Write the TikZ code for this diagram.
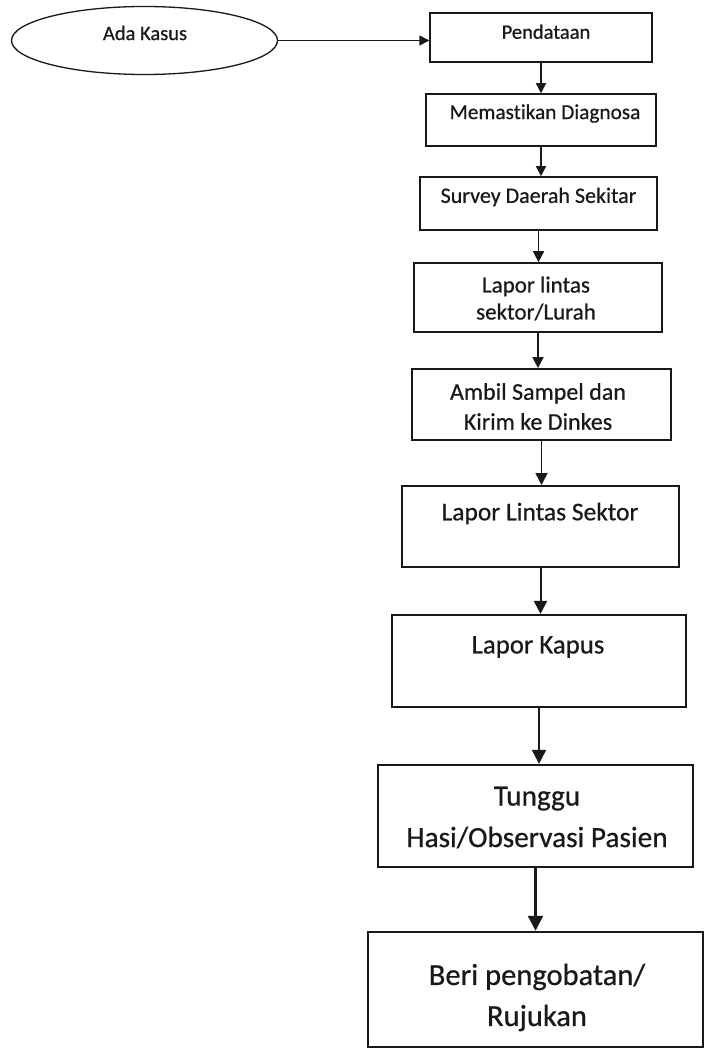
\documentclass[tikz,border=0pt]{standalone}
\usepackage{fontspec}
\setmainfont{Carlito}[Ligatures=NoCommon, FakeBold=0.6]
\usetikzlibrary{arrows.meta,shapes.geometric}
\begin{document}
\begin{tikzpicture}[x=1pt,y=-1pt,
  ink/.style={draw=black!90},
  box/.style={ink, fill=white, inner sep=0pt},
  lbl/.style={inner sep=0pt, text=black!90, align=center},
  flow/.style={ink, -{Triangle[length=#1pt,width=#1pt]}},
  flow/.default=10]
\useasboundingbox (0,0) rectangle (704,1051);
\fill[white] (0,0) rectangle (704,1051);

% start ellipse
\node[ellipse, ink, line width=1.3pt, minimum width=266pt, minimum height=68pt, inner sep=0pt] (e) at (144.5,40.5) {};
\node[lbl, font=\fontsize{20.5}{24}\selectfont] (te) at (145,33) {Ada Kasus};

% boxes
\node[box, line width=1.4pt, minimum width=222pt, minimum height=49pt] (b1) at (541,37.5) {};
\node[lbl, font=\fontsize{20.5}{24}\selectfont] (t1) at (546,31.7) {Pendataan};

\node[box, line width=1.5pt, minimum width=230pt, minimum height=52pt] (b2) at (541,120) {};
\node[lbl, font=\fontsize{21.3}{25}\selectfont] (t2) at (545,113.5) {Memastikan Diagnosa};

\node[box, line width=1.6pt, minimum width=237pt, minimum height=53pt] (b3) at (538.5,203.5) {};
\node[lbl, font=\fontsize{22}{26}\selectfont] (t3) at (538.5,197) {Survey Daerah Sekitar};

\node[box, line width=1.7pt, minimum width=248pt, minimum height=69pt] (b4) at (538,297.5) {};
\node[lbl, font=\fontsize{23}{27}\selectfont] (t4) at (536,298.5) {Lapor lintas\\sektor/Lurah};

\node[box, line width=1.8pt, minimum width=259pt, minimum height=71pt] (b5) at (541.5,404.5) {};
\node[lbl, font=\fontsize{24}{30}\selectfont] (t5) at (538,406.5) {Ambil Sampel dan\\Kirim ke Dinkes};

\node[box, line width=2pt, minimum width=277pt, minimum height=81pt] (b6) at (540.5,526.5) {};
\node[lbl, font=\fontsize{25.5}{30}\selectfont] (t6) at (540,513.5) {Lapor Lintas Sektor};

\node[box, line width=2.1pt, minimum width=294pt, minimum height=92pt] (b7) at (539,661) {};
\node[lbl, font=\fontsize{26.8}{32}\selectfont] (t7) at (538,647) {Lapor Kapus};

\node[box, line width=2.3pt, minimum width=315pt, minimum height=102pt] (b8) at (535.5,816) {};
\node[lbl, font=\fontsize{29.3}{41.5}\selectfont] (t8) at (537,817.5) {Tunggu\\Hasi/Observasi Pasien};

\node[box, line width=2.5pt, minimum width=335pt, minimum height=115pt] (b9) at (535.5,989.5) {};
\node[lbl, font=\fontsize{30.5}{41}\selectfont] (t9) at (537,997.5) {Beri pengobatan/\\Rujukan};

% connectors
\draw[flow=10, line width=1.4pt] (e.east) -- (e.east -| b1.west);
\draw[flow=10, line width=1.4pt] (b1.south) -- (b1.south |- b2.north);
\draw[flow=10, line width=1.5pt] (b2.south) -- (b2.south |- b3.north);
\draw[flow=11, line width=1.6pt] (b3.south) -- (b3.south |- b4.north);
\draw[flow=11, line width=1.7pt] (b4.south) -- (b4.south |- b5.north);
\draw[flow=12, line width=1.8pt] (b5.south) -- (b5.south |- b6.north);
\draw[flow=13, line width=2pt] (b6.south) -- (b6.south |- b7.north);
\draw[flow=14, line width=2.1pt] (b7.south) -- (b7.south |- b8.north);
\draw[flow=15, line width=2.3pt] (b8.south) -- (b8.south |- b9.north);
\end{tikzpicture}
\end{document}
